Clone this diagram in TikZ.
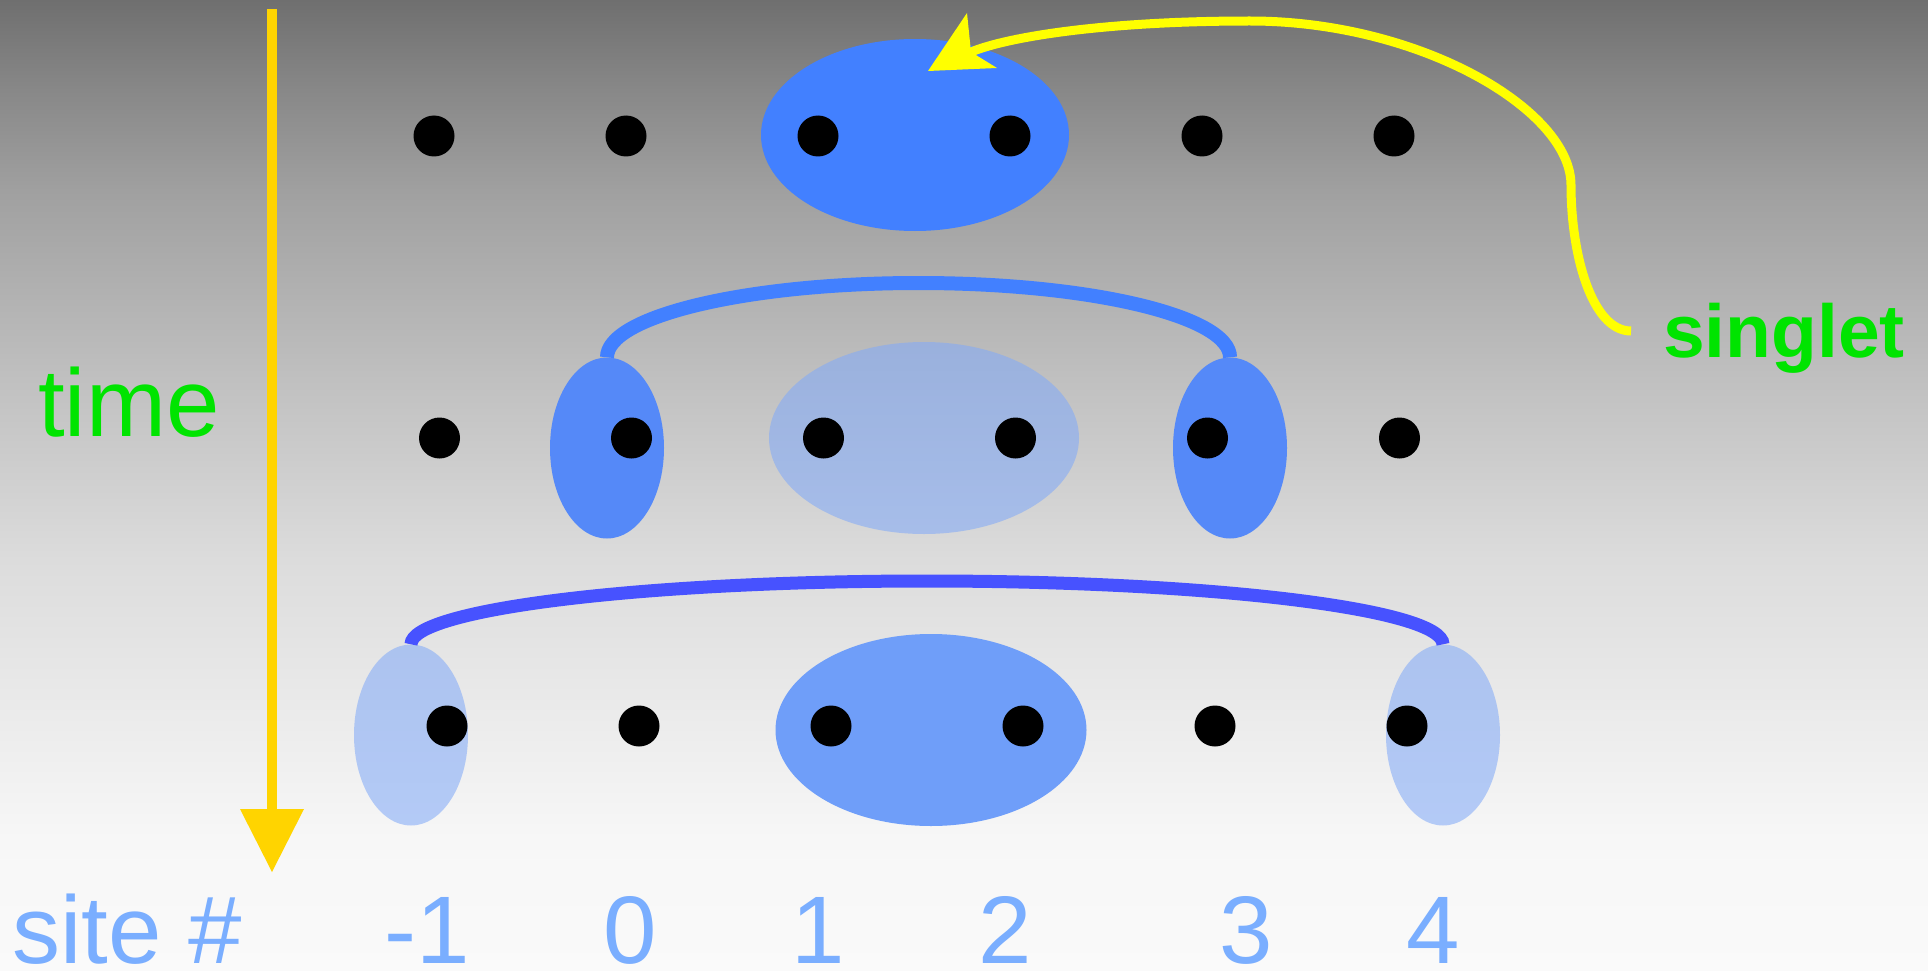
\documentclass[tikz,border=0pt]{standalone}
\usepackage{fontspec}
\setmainfont{Liberation Sans}
\usetikzlibrary{shapes.geometric}

% palette
\definecolor{pairblue}{RGB}{66,128,255}
\definecolor{sideblue}{RGB}{85,137,248}
\definecolor{paleblue}{RGB}{130,170,248}
\definecolor{lowblue}{RGB}{111,158,249}
\definecolor{longarc}{RGB}{71,82,255}
\definecolor{timegold}{RGB}{255,212,0}
\definecolor{hintyellow}{RGB}{255,255,0}
\definecolor{labelgreen}{RGB}{0,228,0}
\definecolor{siteblue}{RGB}{122,174,255}

% grey backdrop, dark at the top and nearly white at the bottom
\pgfdeclareverticalshading{greysky}{100bp}{%
  rgb(0bp)=(0.980,0.980,0.980);
  rgb(25bp)=(0.980,0.980,0.980);
  rgb(31.75bp)=(0.969,0.969,0.969);
  rgb(46.15bp)=(0.863,0.863,0.863);
  rgb(55.45bp)=(0.753,0.753,0.753);
  rgb(65.2bp)=(0.627,0.627,0.627);
  rgb(70.35bp)=(0.533,0.533,0.533);
  rgb(75bp)=(0.435,0.435,0.435);
  rgb(100bp)=(0.435,0.435,0.435)}

\tikzset{
  site/.style={circle, fill=black, minimum size=41pt, inner sep=0pt},
  blob/.style={ellipse, inner sep=0pt, draw=none},
  pairblob/.style={blob, minimum width=310pt, minimum height=192pt},
  sideblob/.style={blob, minimum width=114pt, minimum height=181pt},
  bond/.style={line width=14pt, line cap=butt},
  biglabel/.style={inner sep=0pt, font=\fontsize{96}{96}\selectfont},
  sitenum/.style={biglabel, anchor=base, text=siteblue, text depth=0pt},
}

\begin{document}
\begin{tikzpicture}[x=1pt, y=-1pt]
\useasboundingbox (0,0) rectangle (1928,971);
\shade[shading=greysky] (0,0) rectangle (1928,971);

% ---- row 1: one nearest-neighbour pair ----
\node[pairblob, fill=pairblue, minimum width=308pt] (topblob) at (915,135) {};
\foreach \i/\x in {1/434,2/626,3/818,4/1010,5/1202,6/1394}
  \node[site] (t\i) at (\x,136) {};

% ---- row 2: pair spread over the chain ----
\node[pairblob, fill=paleblue, fill opacity=0.57] (midblob) at (924,438) {};
\node[sideblob, fill=sideblue] (ml) at (607,448) {};
\node[sideblob, fill=sideblue] (mr) at (1230,448) {};
\coordinate (midtop) at (918.5,283);
\draw[bond, pairblue] (ml.north) .. controls +(0,-41) and +(-172,0) .. (midtop)
                                 .. controls +(172,0) and +(0,-41) .. (mr.north);
\foreach \i/\x in {1/439.5,2/631.5,3/823.5,4/1015.5,5/1207.5,6/1399.5}
  \node[site] (m\i) at (\x,438) {};

% ---- row 3: pair at the chain ends ----
\node[pairblob, fill=lowblue, minimum width=311pt] (lowblob) at (931,730) {};
\node[sideblob, fill=paleblue, fill opacity=0.57] (bl) at (411,735) {};
\node[sideblob, fill=paleblue, fill opacity=0.57] (br) at (1443,735) {};
\coordinate (lowtop) at (927,581);
\draw[bond, line width=13pt, longarc] (bl.north) .. controls +(0,-35) and +(-285,0) .. (lowtop)
                                       .. controls +(285,0) and +(0,-35) .. (br.north);
\foreach \i/\x in {1/447,2/639,3/831,4/1023,5/1215,6/1407}
  \node[site] (b\i) at (\x,726) {};

% ---- time axis ----
\coordinate (tstart) at (272,9);
\coordinate (tbase) at (272,809);
\coordinate (ttip) at (272,872);
\draw[timegold, line width=10pt] (tstart) -- (tbase);
\fill[timegold] ([xshift=-32pt]tbase) -- ([xshift=32pt]tbase) -- (ttip) -- cycle;
\node[biglabel, anchor=base west, text=labelgreen] (timelbl) at (38,436) {time};

% ---- singlet pointer ----
\node[inner sep=0pt, anchor=base west, text=labelgreen,
      font=\bfseries\fontsize{75}{75}\selectfont] (singlet) at (1663,357) {singlet};
\coordinate (ystart) at (1631,331);
\coordinate (ybend) at (1571,185);
\coordinate (ycrest) at (1250,21);
\coordinate (ynotch) at (971,52);
\coordinate (ytip) at (928,71);
\draw[hintyellow, line width=9pt, line cap=butt]
  (ystart) .. controls (1592,331) and (1571,255) .. (ybend)
           .. controls (1571,110) and (1420,21) .. (ycrest)
           .. controls (1110,21) and (1010,36) .. (ynotch);
\fill[hintyellow] (ytip) -- (967,13) -- (ynotch) -- (997,68) -- cycle;

% ---- site numbers ----
\node[biglabel, anchor=base west, text=siteblue, text depth=0pt] (sitelbl) at (12,963) {site \#};
\node[sitenum] (n-1) at (427.6,963) {-1};
\node[sitenum] (n0) at (630.5,963) {0};
\node[sitenum] (n1) at (818.5,963) {1};
\node[sitenum] (n2) at (1005.5,963) {2};
\node[sitenum] (n3) at (1246.5,963) {3};
\node[sitenum] (n4) at (1433,963) {4};
\end{tikzpicture}
\end{document}
